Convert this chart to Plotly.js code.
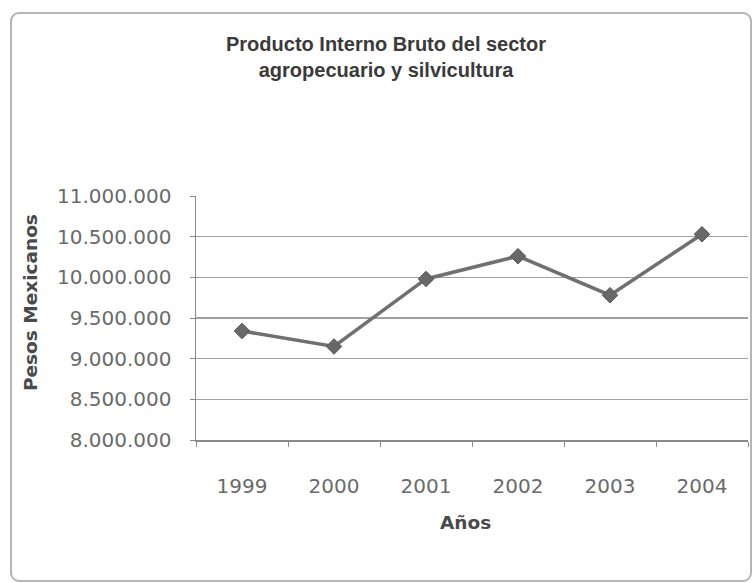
<!DOCTYPE html>
<html>
<head>
<meta charset="utf-8">
<script src="https://cdn.plot.ly/plotly-3.0.1.min.js"></script>
<style>
  html, body { margin: 0; padding: 0; background: #fff; }
  #wrap { position: relative; width: 754px; height: 583px; }
  #chart { position: absolute; left: 0; top: 0; width: 754px; height: 583px; }
  #frame { position: absolute; left: 10px; top: 12px; width: 738px; height: 566px;
           border: 2px solid #b5b5b5; border-radius: 9px; pointer-events: none; }
</style>
</head>
<body>
<div id="wrap">
  <div id="chart"></div>
  <div id="frame"></div>
</div>
<script>
const years = ["1999", "2000", "2001", "2002", "2003", "2004"];
const pib = [9340000, 9150000, 9980000, 10260000, 9780000, 10530000];
const titleText = "Producto Interno Bruto del sector<br>agropecuario y silvicultura";
const yTitle = "Pesos Mexicanos";
const xTitle = "Años";

const trace = {
  x: years,
  y: pib,
  type: "scatter",
  mode: "lines+markers",
  line: { color: "#707070", width: 3.5 },
  marker: { symbol: "diamond", size: 12, color: "#686868", line: { color: "#5a5a5a", width: 1 } },
  hoverinfo: "x+y"
};

const tickFont = { family: "'DejaVu Sans', sans-serif", size: 20, color: "#6a6a6a" };
const axTitleFont = { family: "'DejaVu Sans', sans-serif", size: 18.5, color: "#4a4a4a", weight: "bold" };

const layout = {
  width: 754,
  height: 583,
  margin: { l: 196, r: 6, t: 196, b: 143 },
  paper_bgcolor: "#ffffff",
  plot_bgcolor: "#ffffff",
  separators: ",.",
  showlegend: false,
  xaxis: {
    type: "category",
    range: [-0.5, years.length - 0.5],
    showline: true,
    linecolor: "#8a8a8a",
    linewidth: 1.5,
    ticks: "outside",
    tickson: "boundaries",
    ticklen: 5,
    tickcolor: "#8a8a8a",
    tickfont: tickFont,
    ticklabelstandoff: 27,
    showgrid: false,
    zeroline: false
  },
  yaxis: {
    range: [8000000, 11000000],
    dtick: 500000,
    tick0: 8000000,
    tickformat: ",.0f",
    showline: true,
    linecolor: "#8a8a8a",
    linewidth: 1.5,
    ticks: "outside",
    ticklen: 5,
    tickcolor: "#8a8a8a",
    tickfont: tickFont,
    ticklabelstandoff: 14,
    showgrid: true,
    gridcolor: "#a0a0a0",
    gridwidth: 1.3,
    zeroline: false
  },
  annotations: [
    {
      text: titleText,
      xref: "paper", yref: "paper",
      x: (386 - 196) / 552, y: (440 - 57) / 244,
      xanchor: "center", yanchor: "middle",
      showarrow: false,
      font: { family: "'Liberation Sans', sans-serif", size: 20, color: "#3a3a3a", weight: "bold" }
    },
    {
      text: yTitle,
      xref: "paper", yref: "paper",
      x: (30 - 196) / 552, y: (440 - 303) / 244,
      xanchor: "center", yanchor: "middle",
      textangle: -90,
      showarrow: false,
      font: axTitleFont
    },
    {
      text: xTitle,
      xref: "paper", yref: "paper",
      x: (465 - 196) / 552, y: (440 - 522) / 244,
      xanchor: "center", yanchor: "middle",
      showarrow: false,
      font: axTitleFont
    }
  ]
};

Plotly.newPlot("chart", [trace], layout, { displayModeBar: false, staticPlot: true });
</script>
</body>
</html>
